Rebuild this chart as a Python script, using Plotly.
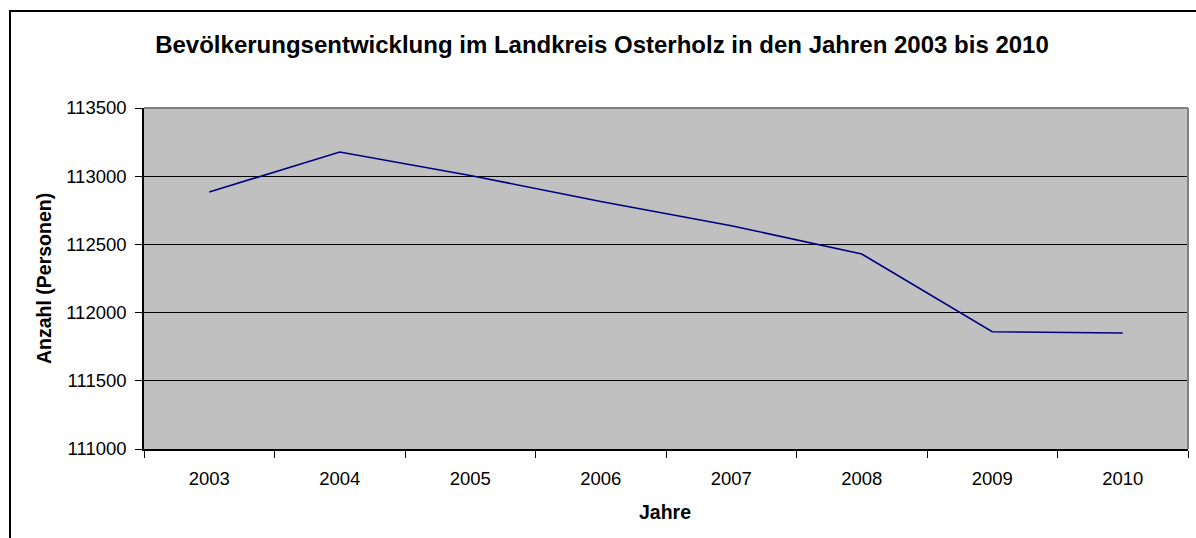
import plotly.graph_objects as go

years = ["2003", "2004", "2005", "2006", "2007", "2008", "2009", "2010"]
population = [112884, 113177, 113005, 112815, 112637, 112430, 111860, 111850]

title_text = "Bevölkerungsentwicklung im Landkreis Osterholz in den Jahren 2003 bis 2010"
x_title = "Jahre"
y_title = "Anzahl (Personen)"

W, H = 1196, 538
L, R, T, B = 144, 8, 108, 89
pw, ph = W - L - R, H - T - B

def px_x(px):
    return (px - L) / pw

def px_y(py):
    return (H - B - py) / ph

FONT = "Liberation Sans, Arial, sans-serif"

fig = go.Figure()
fig.add_trace(go.Scatter(
    x=years, y=population, mode="lines",
    line=dict(color="#000080", width=1.6),
    showlegend=False, hoverinfo="x+y",
))

fig.update_layout(
    width=W, height=H,
    margin=dict(l=L, r=R, t=T, b=B),
    paper_bgcolor="white",
    plot_bgcolor="#C0C0C0",
    font=dict(family=FONT, size=18, color="black"),
    title=dict(text="<b>" + title_text + "</b>", x=602 / W, xanchor="center",
               y=1 - 45 / H, yanchor="middle", yref="container",
               font=dict(family=FONT, size=24, color="black")),
    xaxis=dict(
        type="category", range=[-0.5, 7.5],
        showgrid=False, zeroline=False,
        showline=True, linecolor="black", linewidth=1.5,
        ticks="outside", tickson="boundaries", ticklen=7, tickcolor="black", tickwidth=1.2,
        tickfont=dict(family=FONT, size=18.5, color="black"),
        ticklabelstandoff=12,
    ),
    yaxis=dict(
        range=[111000, 113500], dtick=500, tick0=111000,
        showgrid=True, gridcolor="black", gridwidth=1,
        zeroline=False,
        showline=True, linecolor="black", linewidth=1.5,
        ticks="outside", ticklen=7, tickcolor="black", tickwidth=1.2,
        tickfont=dict(family=FONT, size=18.5, color="black"),
        tickformat="d", ticklabelstandoff=5,
    ),
    annotations=[
        dict(text="<b>" + x_title + "</b>", xref="paper", yref="paper",
             x=px_x(665), y=px_y(512), xanchor="center", yanchor="middle",
             showarrow=False, font=dict(family=FONT, size=19.5, color="black")),
        dict(text="<b>" + y_title + "</b>", xref="paper", yref="paper",
             x=px_x(44), y=px_y(279), xanchor="center", yanchor="middle",
             textangle=-90, showarrow=False,
             font=dict(family=FONT, size=19.5, color="black")),
    ],
    shapes=[
        # plot area border (top and right, gray)
        dict(type="line", xref="paper", yref="paper", x0=0, x1=1, y0=1, y1=1,
             line=dict(color="#808080", width=2), layer="above"),
        dict(type="line", xref="paper", yref="paper", x0=1, x1=1, y0=0, y1=1,
             line=dict(color="#808080", width=2), layer="above"),
        # outer chart frame (extends beyond the visible area on the right and bottom)
        dict(type="rect", xref="paper", yref="paper",
             x0=px_x(10), x1=px_x(W + 20), y0=px_y(H + 20), y1=px_y(11),
             line=dict(color="black", width=2), fillcolor="rgba(0,0,0,0)", layer="above"),
    ],
)

fig.write_html("out.html",
               config={"displayModeBar": False},
               post_script="document.body.style.margin='0';document.body.style.overflow='hidden';")
